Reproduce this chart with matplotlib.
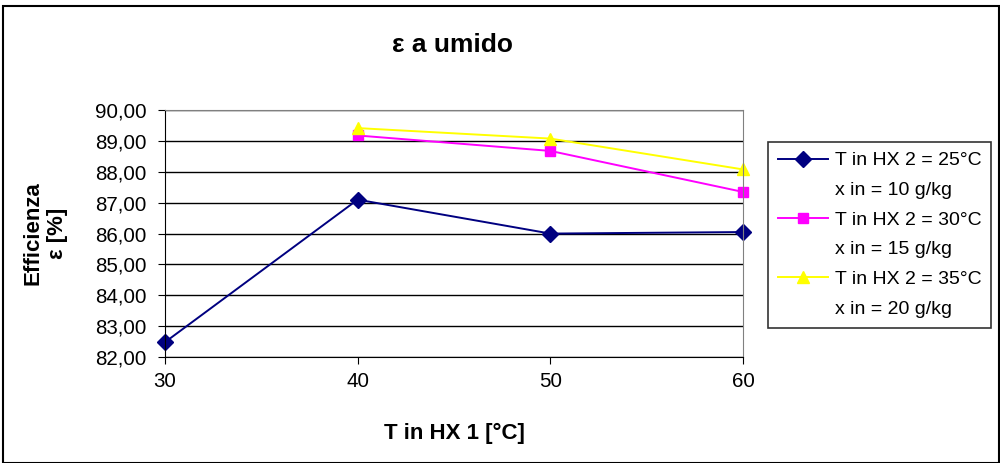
import matplotlib.pyplot as plt
from matplotlib.lines import Line2D
from matplotlib.ticker import FuncFormatter

plt.rcParams['font.family'] = ['Liberation Sans', 'DejaVu Sans']

# dati
t_hx1 = [30, 40, 50, 60]
eps_25 = [82.48, 87.10, 86.00, 86.05]
t_hx1_b = [40, 50, 60]
eps_30 = [89.18, 88.68, 87.35]
eps_35 = [89.42, 89.08, 88.08]
labels = ["T in HX 2 = 25°C", "T in HX 2 = 30°C", "T in HX 2 = 35°C"]
labels_x = ["x in = 10 g/kg", "x in = 15 g/kg", "x in = 20 g/kg"]

fig = plt.figure(figsize=(10, 4.63), dpi=100)
ax = fig.add_axes([0.165, 0.229, 0.578, 0.533])

l1, = ax.plot(t_hx1, eps_25, color="#000080", marker="D", markersize=8, lw=1.4)
l2, = ax.plot(t_hx1_b, eps_30, color="#FF00FF", marker="s", markersize=7.5, lw=1.4)
l3, = ax.plot(t_hx1_b, eps_35, color="#FFFF00", marker="^", markersize=9, lw=1.4)

ax.set_xlim(30, 60)
ax.set_ylim(82, 90)
ax.set_xticks(t_hx1)
ax.set_yticks(range(82, 91))
ax.yaxis.set_major_formatter(FuncFormatter(lambda v, p: f"{v:.2f}".replace(".", ",")))
ax.grid(axis="y", color="black", lw=1)
ax.tick_params(labelsize=14.8, direction="out", length=5, color="black")
ax.tick_params(axis="x", pad=6)
ax.tick_params(axis="y", pad=8)
for s in ["top", "right"]:
    ax.spines[s].set_color("gray")
for s in ["left", "bottom"]:
    ax.spines[s].set_color("black")

for ln in ax.lines:
    ln.set_clip_on(False)

ax.set_xlabel("T in HX 1 [°C]", fontsize=16, fontweight="bold", labelpad=23)
ax.set_ylabel("Efficienza\nε [%]", fontsize=16, fontweight="bold", labelpad=20)
fig.text(0.452, 0.903, "ε a umido", fontsize=19, fontweight="bold", ha="center", va="center")

# legenda: seconda riga come voce senza simbolo
vuoto = Line2D([], [], linestyle="none")
handles, texts = [], []
for h, a, b in zip([l1, l2, l3], labels, labels_x):
    handles += [h, vuoto]
    texts += [a, b]
leg = fig.legend(handles, texts, loc="upper left", bbox_to_anchor=(0.768, 0.693), fontsize=14,
                 frameon=True, fancybox=False, edgecolor="black", handlelength=2.6,
                 handletextpad=0.35, labelspacing=0.62, borderpad=0.5, borderaxespad=0)
leg.get_frame().set_linewidth(1.2)

# bordo esterno
fig.patches.append(plt.Rectangle((0.003, 0.0), 0.996, 0.988, transform=fig.transFigure,
                                 fill=False, edgecolor="black", lw=1.5))

fig.savefig("out.png", dpi=100)
